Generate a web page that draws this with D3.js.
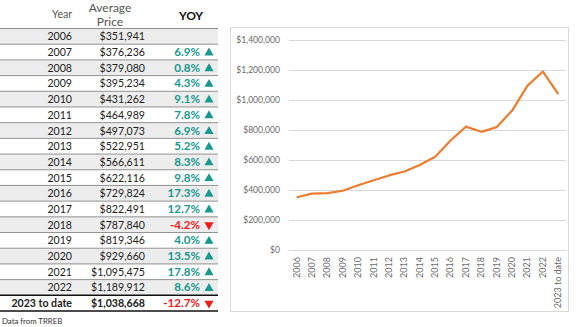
<!DOCTYPE html>
<html>
<head>
<meta charset="utf-8">
<script src="https://cdn.jsdelivr.net/npm/d3@7"></script>
<style>
  body { margin: 0; background: #fff; }
  svg { display: block; font-family: Lato, "Open Sans", sans-serif; }
</style>
</head>
<body>
<div id="chart"></div>
<script>
const years = ["2006", "2007", "2008", "2009", "2010", "2011", "2012", "2013", "2014",
  "2015", "2016", "2017", "2018", "2019", "2020", "2021", "2022", "2023 to date"];
const prices = [351941, 376236, 379080, 395234, 431262, 464989, 497073, 522951, 566611,
  622116, 729824, 822491, 787840, 819346, 929660, 1095475, 1189912, 1038668];
const yoy = [null, 6.9, 0.8, 4.3, 9.1, 7.8, 6.9, 5.2, 8.3, 9.8, 17.3, 12.7, -4.2, 4.0,
  13.5, 17.8, 8.6, -12.7];
const yTicks = [0, 200000, 400000, 600000, 800000, 1000000, 1200000, 1400000];

const width = 580, height = 327;
const teal = "#17998f", red = "#f01a1a";

const svg = d3.select("#chart").append("svg")
  .attr("width", width)
  .attr("height", height)
  .attr("viewBox", [0, 0, width, height]);

// ---- table ----
const row = d3.scaleBand()
  .domain(years)
  .range([28.5, 311])
  .padding(0);

const money = d3.format("$,");

const tbl = svg.append("g");

tbl.append("text").attr("x", 72).attr("y", 18).attr("text-anchor", "end")
  .attr("font-size", 10.5).attr("fill", "#555").text("Year");
tbl.append("text").attr("x", 110).attr("y", 12).attr("text-anchor", "middle")
  .attr("font-size", 12).attr("fill", "#555").text("Average");
tbl.append("text").attr("x", 110).attr("y", 26).attr("text-anchor", "middle")
  .attr("font-size", 12).attr("fill", "#555").text("Price");
tbl.append("text").attr("x", 191).attr("y", 20).attr("text-anchor", "middle")
  .attr("font-size", 12).attr("font-weight", "bold").attr("fill", "#111").text("YOY");

const rows = tbl.selectAll("g.row")
  .data(years)
  .join("g")
  .attr("class", "row")
  .attr("transform", d => `translate(0,${row(d)})`);

rows.append("rect")
  .attr("x", 0)
  .attr("width", 218)
  .attr("height", row.bandwidth())
  .attr("fill", (d, i) => i % 2 === 0 ? "#ededed" : "#fff");

rows.append("line")
  .attr("x1", 0).attr("x2", 218)
  .attr("y1", 0).attr("y2", 0)
  .attr("stroke", (d, i) => i === 17 ? "#111" : "#777")
  .attr("stroke-width", (d, i) => i === 17 ? 1.5 : 0.8);

const mid = row.bandwidth() / 2 + 4;

rows.append("text")
  .attr("x", 72).attr("y", mid)
  .attr("text-anchor", "end")
  .attr("font-size", 10.6)
  .attr("font-weight", (d, i) => i === 17 ? "bold" : "normal")
  .attr("fill", "#222")
  .text(d => d);

rows.append("text")
  .attr("x", 145).attr("y", mid)
  .attr("text-anchor", "end")
  .attr("font-size", 10.6)
  .attr("font-weight", (d, i) => i === 17 ? "bold" : "normal")
  .attr("fill", "#222")
  .text((d, i) => money(prices[i]));

rows.filter((d, i) => yoy[i] !== null).append("text")
  .attr("x", 200).attr("y", mid)
  .attr("text-anchor", "end")
  .attr("font-size", 11.6)
  .attr("font-weight", "bold")
  .attr("fill", (d, i) => yoy[i + 1] < 0 ? red : teal)
  .text((d, i) => yoy[i + 1].toFixed(1) + "%");

rows.filter((d, i) => yoy[i] !== null).append("path")
  .attr("transform", (d, i) => {
    const up = yoy[i + 1] >= 0;
    return `translate(209,${row.bandwidth() / 2 + (up ? 0.8 : 0.2)}) rotate(${up ? 0 : 180})`;
  })
  .attr("d", d3.symbol(d3.symbolTriangle, 36))
  .attr("fill", (d, i) => yoy[i + 1] < 0 ? red : teal);

tbl.append("line")
  .attr("x1", 0).attr("x2", 218)
  .attr("y1", 311).attr("y2", 311)
  .attr("stroke", "#111").attr("stroke-width", 1.5);

svg.append("text")
  .attr("x", 2).attr("y", 324)
  .attr("font-size", 7.8)
  .attr("fill", "#333")
  .text("Data from TRREB");

// ---- line chart ----
svg.append("rect")
  .attr("x", 230.5).attr("y", 27.5)
  .attr("width", 338).attr("height", 284)
  .attr("fill", "#fff")
  .attr("stroke", "#d9d9d9");

const x = d3.scaleBand()
  .domain(years)
  .range([289, 566]);

const y = d3.scaleLinear()
  .domain([0, 1400000])
  .range([250, 40]);

const yAxis = svg.append("g")
  .attr("transform", "translate(289,0)")
  .call(d3.axisLeft(y).tickValues(yTicks).tickFormat(d3.format("$,")).tickSize(-277).tickPadding(9));
yAxis.select(".domain").remove();
yAxis.selectAll(".tick line").attr("stroke", "#d9d9d9");
yAxis.selectAll(".tick text").attr("fill", "#6a6a6a").attr("font-size", 8.6)
  .attr("font-family", "Lato, sans-serif");

const xAxis = svg.append("g")
  .attr("transform", "translate(0,250)")
  .call(d3.axisBottom(x).tickSize(0).tickPadding(6));
xAxis.select(".domain").attr("stroke", "#d9d9d9");
xAxis.selectAll(".tick text")
  .attr("fill", "#6a6a6a")
  .attr("font-size", 9)
  .attr("font-family", "Lato, sans-serif")
  .attr("transform", "rotate(-90)")
  .attr("text-anchor", "end")
  .attr("dy", "0.32em")
  .attr("x", -7)
  .attr("y", 0);

const line = d3.line()
  .x((d, i) => x(years[i]) + x.bandwidth() / 2)
  .y(d => y(d));

svg.append("path")
  .datum(prices)
  .attr("fill", "none")
  .attr("stroke", "#ed7d31")
  .attr("stroke-width", 2.2)
  .attr("stroke-linejoin", "round")
  .attr("d", line);
</script>
</body>
</html>
